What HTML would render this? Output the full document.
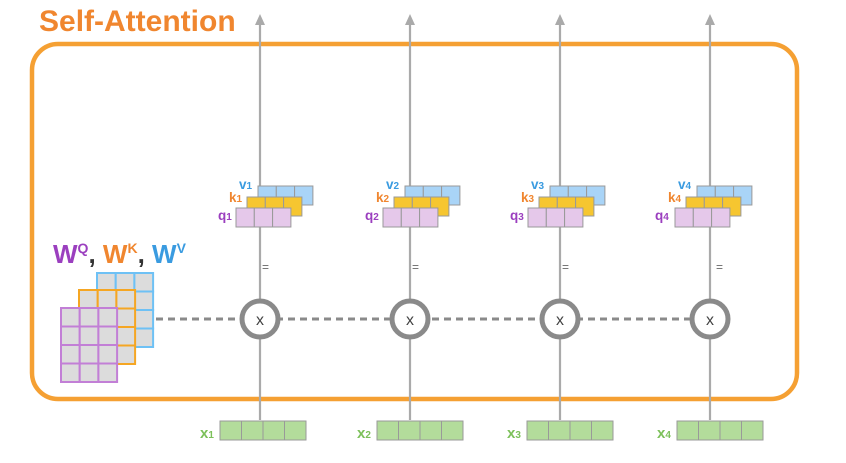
<!DOCTYPE html>
<html><head><style>
body{margin:0;background:#fff;}
svg{display:block;font-family:"Liberation Sans",sans-serif;}
</style></head><body>
<svg width="846" height="463" viewBox="0 0 846 463" xmlns="http://www.w3.org/2000/svg">
<defs>
<g id="row3"><rect x="0" y="0" width="18.3" height="19"/><rect x="18.3" y="0" width="18.3" height="19"/><rect x="36.6" y="0" width="18.3" height="19"/></g>
</defs>
<text x="39" y="31" font-size="30" font-weight="bold" fill="#f0862f">Self-Attention</text>
<rect x="32" y="44" width="765" height="355" rx="26" fill="none" stroke="#f5a033" stroke-width="4.5"/>
<line x1="156" y1="319" x2="692" y2="319" stroke="#8a8a8a" stroke-width="3" stroke-dasharray="7,5"/>
<g stroke-width="2">
<g fill="#dcdcdc" stroke="#6ec1f5">
<rect x="97" y="273" width="18.7" height="18.5"/><rect x="115.7" y="273" width="18.7" height="18.5"/><rect x="134.4" y="273" width="18.7" height="18.5"/>
<rect x="97" y="291.5" width="18.7" height="18.5"/><rect x="115.7" y="291.5" width="18.7" height="18.5"/><rect x="134.4" y="291.5" width="18.7" height="18.5"/>
<rect x="97" y="310" width="18.7" height="18.5"/><rect x="115.7" y="310" width="18.7" height="18.5"/><rect x="134.4" y="310" width="18.7" height="18.5"/>
<rect x="97" y="328.5" width="18.7" height="18.5"/><rect x="115.7" y="328.5" width="18.7" height="18.5"/><rect x="134.4" y="328.5" width="18.7" height="18.5"/>
</g>
<g fill="#dcdcdc" stroke="#f5a623">
<rect x="79" y="290" width="18.7" height="18.5"/><rect x="97.7" y="290" width="18.7" height="18.5"/><rect x="116.4" y="290" width="18.7" height="18.5"/>
<rect x="79" y="308.5" width="18.7" height="18.5"/><rect x="97.7" y="308.5" width="18.7" height="18.5"/><rect x="116.4" y="308.5" width="18.7" height="18.5"/>
<rect x="79" y="327" width="18.7" height="18.5"/><rect x="97.7" y="327" width="18.7" height="18.5"/><rect x="116.4" y="327" width="18.7" height="18.5"/>
<rect x="79" y="345.5" width="18.7" height="18.5"/><rect x="97.7" y="345.5" width="18.7" height="18.5"/><rect x="116.4" y="345.5" width="18.7" height="18.5"/>
</g>
<g fill="#dcdcdc" stroke="#c27fd6">
<rect x="61" y="308" width="18.7" height="18.5"/><rect x="79.7" y="308" width="18.7" height="18.5"/><rect x="98.4" y="308" width="18.7" height="18.5"/>
<rect x="61" y="326.5" width="18.7" height="18.5"/><rect x="79.7" y="326.5" width="18.7" height="18.5"/><rect x="98.4" y="326.5" width="18.7" height="18.5"/>
<rect x="61" y="345" width="18.7" height="18.5"/><rect x="79.7" y="345" width="18.7" height="18.5"/><rect x="98.4" y="345" width="18.7" height="18.5"/>
<rect x="61" y="363.5" width="18.7" height="18.5"/><rect x="79.7" y="363.5" width="18.7" height="18.5"/><rect x="98.4" y="363.5" width="18.7" height="18.5"/>
</g>
</g>
<text x="53" y="263" font-size="26" font-weight="bold"><tspan fill="#9b3fbf">W</tspan><tspan fill="#9b3fbf" font-size="14" dy="-10">Q</tspan><tspan fill="#333" dy="10">, </tspan><tspan fill="#f0862f">W</tspan><tspan fill="#f0862f" font-size="14" dy="-10">K</tspan><tspan fill="#333" dy="10">, </tspan><tspan fill="#3a9be0">W</tspan><tspan fill="#3a9be0" font-size="14" dy="-10">V</tspan></text>

<g stroke="#aaa" stroke-width="2.2" fill="none">
<line x1="260" y1="22" x2="260" y2="420"/><line x1="410" y1="22" x2="410" y2="420"/><line x1="560" y1="22" x2="560" y2="420"/><line x1="710" y1="22" x2="710" y2="420"/>
</g>
<g fill="#aaa">
<polygon points="260,14 255,25 265,25"/><polygon points="410,14 405,25 415,25"/><polygon points="560,14 555,25 565,25"/><polygon points="710,14 705,25 715,25"/>
</g>
<g stroke="#999" stroke-width="1">
<g transform="translate(258,186)" fill="#a9d4f7"><use href="#row3"/></g>
<g transform="translate(247,197)" fill="#f6c630"><use href="#row3"/></g>
<g transform="translate(236,208)" fill="#e5c8ea"><use href="#row3"/></g>
<g transform="translate(405,186)" fill="#a9d4f7"><use href="#row3"/></g>
<g transform="translate(394,197)" fill="#f6c630"><use href="#row3"/></g>
<g transform="translate(383,208)" fill="#e5c8ea"><use href="#row3"/></g>
<g transform="translate(550,186)" fill="#a9d4f7"><use href="#row3"/></g>
<g transform="translate(539,197)" fill="#f6c630"><use href="#row3"/></g>
<g transform="translate(528,208)" fill="#e5c8ea"><use href="#row3"/></g>
<g transform="translate(697,186)" fill="#a9d4f7"><use href="#row3"/></g>
<g transform="translate(686,197)" fill="#f6c630"><use href="#row3"/></g>
<g transform="translate(675,208)" fill="#e5c8ea"><use href="#row3"/></g>
</g>
<g font-size="13.5" font-weight="bold">
<text x="239" y="189" fill="#3a9be0">v<tspan font-size="10">1</tspan></text>
<text x="229" y="202" fill="#f0862f">k<tspan font-size="10">1</tspan></text>
<text x="218" y="220" fill="#9b3fbf">q<tspan font-size="10">1</tspan></text>
<text x="386" y="189" fill="#3a9be0">v<tspan font-size="10">2</tspan></text>
<text x="376" y="202" fill="#f0862f">k<tspan font-size="10">2</tspan></text>
<text x="365" y="220" fill="#9b3fbf">q<tspan font-size="10">2</tspan></text>
<text x="531" y="189" fill="#3a9be0">v<tspan font-size="10">3</tspan></text>
<text x="521" y="202" fill="#f0862f">k<tspan font-size="10">3</tspan></text>
<text x="510" y="220" fill="#9b3fbf">q<tspan font-size="10">3</tspan></text>
<text x="678" y="189" fill="#3a9be0">v<tspan font-size="10">4</tspan></text>
<text x="668" y="202" fill="#f0862f">k<tspan font-size="10">4</tspan></text>
<text x="655" y="220" fill="#9b3fbf">q<tspan font-size="10">4</tspan></text>
</g>
<g font-size="12" fill="#666">
<text x="262" y="271">=</text><text x="412" y="271">=</text><text x="562" y="271">=</text><text x="716" y="271">=</text>
</g>
<g fill="#fff" stroke="#8a8a8a" stroke-width="5">
<circle cx="260" cy="319" r="18"/><circle cx="410" cy="319" r="18"/><circle cx="560" cy="319" r="18"/><circle cx="710" cy="319" r="18"/>
</g>
<g font-size="16" fill="#444" text-anchor="middle">
<text x="260" y="325">x</text><text x="410" y="325">x</text><text x="560" y="325">x</text><text x="710" y="325">x</text>
</g>
<g fill="#b3dc9b" stroke="#999" stroke-width="1">
<rect x="220" y="421" width="21.5" height="19"/><rect x="241.5" y="421" width="21.5" height="19"/><rect x="263" y="421" width="21.5" height="19"/><rect x="284.5" y="421" width="21.5" height="19"/>
<rect x="377" y="421" width="21.5" height="19"/><rect x="398.5" y="421" width="21.5" height="19"/><rect x="420" y="421" width="21.5" height="19"/><rect x="441.5" y="421" width="21.5" height="19"/>
<rect x="527" y="421" width="21.5" height="19"/><rect x="548.5" y="421" width="21.5" height="19"/><rect x="570" y="421" width="21.5" height="19"/><rect x="591.5" y="421" width="21.5" height="19"/>
<rect x="677" y="421" width="21.5" height="19"/><rect x="698.5" y="421" width="21.5" height="19"/><rect x="720" y="421" width="21.5" height="19"/><rect x="741.5" y="421" width="21.5" height="19"/>
</g>
<g font-size="15" font-weight="bold" fill="#7cc05a">
<text x="200" y="438">x<tspan font-size="10">1</tspan></text>
<text x="357" y="438">x<tspan font-size="10">2</tspan></text>
<text x="507" y="438">x<tspan font-size="10">3</tspan></text>
<text x="657" y="438">x<tspan font-size="10">4</tspan></text>
</g>
</svg>
</body></html>
